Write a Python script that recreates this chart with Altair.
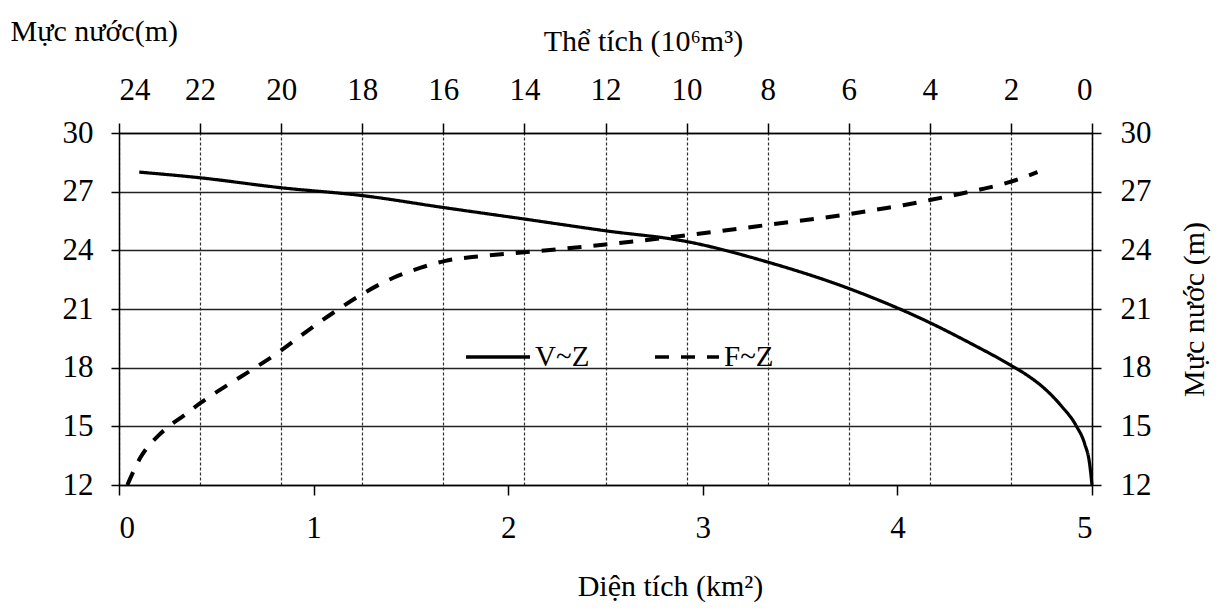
import altair as alt
import pandas as pd

# V~Z : volume (10^6 m3, top axis) vs water level (m)
vol_values = [23.5, 22.0, 20.0, 18.0, 16.0, 14.0, 12.0, 10.0, 8.0, 6.0, 4.0, 3.0, 2.0, 1.59, 1.18, 0.76, 0.39, 0.18, 0.06, 0.0]
vol_levels = [28.0, 27.71, 27.2, 26.8, 26.19, 25.6, 25.0, 24.45, 23.4, 22.05, 20.3, 19.25, 18.12, 17.6, 16.95, 16.05, 15.03, 14.1, 13.1, 12.0]

# F~Z : area (km2, bottom axis) vs water level (m)
area_values = [0.043, 0.11, 0.205, 0.256, 0.333, 0.419, 0.556, 0.692, 0.829, 0.93, 1.034, 1.137, 1.256, 1.41, 1.547, 1.672, 1.855, 2.083, 2.5, 2.917, 3.333, 3.75, 3.895, 4.03, 4.167, 4.294, 4.43, 4.566, 4.72]
area_levels = [12.0, 13.4, 14.55, 15.0, 15.55, 16.2, 17.1, 17.95, 18.85, 19.6, 20.35, 21.05, 21.8, 22.6, 23.1, 23.45, 23.7, 23.9, 24.3, 24.77, 25.3, 25.85, 26.09, 26.31, 26.57, 26.83, 27.12, 27.46, 28.0]

series_names = ["V~Z", "F~Z"]
area_ticks = [0, 1, 2, 3, 4, 5]
vol_ticks = [0, 2, 4, 6, 8, 10, 12, 14, 16, 18, 20, 22, 24]
level_ticks = [12, 15, 18, 21, 24, 27, 30]

df_v = pd.DataFrame({"V": vol_values, "Z": vol_levels, "series": series_names[0]})
df_f = pd.DataFrame({"F": area_values, "Z": area_levels, "series": series_names[1]})

FONT = "Liberation Serif, Times New Roman, Times, DejaVu Serif, serif"
LBL = 31
TTL = 30

dash_scale = alt.Scale(domain=series_names, range=[[1, 0], [14, 12]])
legend = alt.Legend(
    title=None, orient="none", legendX=345, legendY=190, direction="horizontal",
    symbolType="stroke", symbolSize=4096, symbolStrokeWidth=3.5, symbolStrokeColor="black",
    labelFont=FONT, labelFontSize=29, labelColor="black", columnPadding=58, labelOffset=3,
)

y_scale = alt.Scale(domain=[12, 30], nice=False, zero=False)

f_line = alt.Chart(df_f).mark_line(color="black", strokeWidth=4, interpolate="monotone").encode(
    x=alt.X("F:Q", scale=alt.Scale(domain=[0, 5], nice=False, zero=False),
            axis=alt.Axis(orient="bottom", values=area_ticks, grid=False, title="Diện tích (km²)",
                          tickSize=10, labelPadding=18, titleX=551, titleY=110, titleAlign="center",
                          titleBaseline="alphabetic")),
    y=alt.Y("Z:Q", scale=y_scale,
            axis=alt.Axis(orient="left", values=level_ticks, grid=True, gridColor="#222", gridWidth=1.3,
                          title="Mực nước(m)", titleAngle=0, titleX=-109, titleY=-93, titleAlign="left",
                          titleBaseline="alphabetic", tickSize=8, labelPadding=18)),
    strokeDash=alt.StrokeDash("series:N", scale=dash_scale, legend=legend),
)

v_line = alt.Chart(df_v).mark_line(color="black", strokeWidth=3.2, interpolate="monotone").encode(
    x=alt.X("V:Q", scale=alt.Scale(domain=[0, 24], reverse=True, nice=False, zero=False),
            axis=alt.Axis(orient="top", values=vol_ticks, grid=True, gridColor="#333", gridWidth=1.2,
                          gridDash=[3, 2], title="Thể tích (10⁶m³)", tickSize=10, labelPadding=17,
                          titleX=524, titleY=-83, titleAlign="center", titleBaseline="alphabetic")),
    y=alt.Y("Z:Q", scale=y_scale,
            axis=alt.Axis(orient="right", values=level_ticks, grid=False, title="Mực nước (m)",
                          titleAngle=270, tickSize=9, labelPadding=19, titlePadding=58)),
    strokeDash=alt.StrokeDash("series:N", scale=dash_scale, legend=legend),
)

chart = alt.layer(f_line, v_line).resolve_scale(
    x="independent", y="independent"
).properties(
    width=973, height=352,
    autosize=alt.AutoSizeParams(type="none"),
    padding={"left": 111, "top": 125, "right": 125, "bottom": 120},
).configure_view(stroke=None).configure_axis(
    labelFont=FONT, labelFontSize=LBL, labelColor="black",
    titleFont=FONT, titleFontSize=TTL, titleColor="black", titleFontWeight="normal",
    domainColor="black", domainWidth=1.5, tickColor="black", tickWidth=1.5,
)

chart.save("out.html", embed_options={"renderer": "svg", "actions": False})
